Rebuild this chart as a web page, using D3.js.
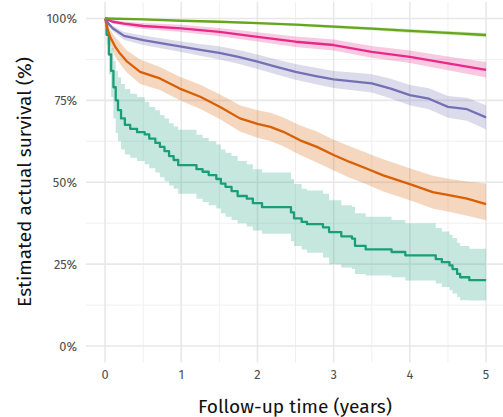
<!DOCTYPE html>
<html><head><meta charset="utf-8">
<script src="https://cdn.jsdelivr.net/npm/d3@7"></script>
<style>body{margin:0;background:#fff}svg{display:block}text{font-family:"Fira Sans","Noto Sans","Open Sans",sans-serif}</style>
</head><body><svg id="c" width="503" height="417"></svg>
<script>
const xTicks = [0,1,2,3,4,5];
const yTicks = [0,25,50,75,100];
const yTickLabels = ["0%","25%","50%","75%","100%"];

// teal (step)
const tealTime  = [0,0.02,0.05,0.08,0.11,0.14,0.17,0.21,0.26,0.33,0.42,0.52,0.58,0.66,0.72,0.78,0.84,0.90,0.96,1.20,1.28,1.36,1.46,1.52,1.58,1.66,1.74,1.86,1.94,2.06,2.44,2.48,2.58,2.65,2.86,2.94,3.10,3.24,3.28,3.42,3.76,3.94,4.34,4.42,4.52,4.56,4.62,4.66,4.78,5.0];
const tealSurv  = [100,95,89,84,79,75,72,69.5,67.5,66.3,65.3,64.6,63.3,62.0,60.8,59.5,58.0,56.8,55.2,54.0,53.2,52.2,51.0,49.6,48.6,47.3,45.8,45.0,43.6,42.4,40.8,39.0,37.9,37.2,36.2,34.8,33.5,32.8,30.6,29.5,28.7,27.7,26.5,25.6,24.6,23.5,22.0,21.0,20.1,20.1];
const tealUpper = [100,98,95,91,87,84,82,80,78.5,77,76,74.5,73,72,70.5,69.5,68,67,66,64.5,63.5,62.5,61.5,60,59,58,56.5,55.5,54,53,51,49.5,48,47.5,46.5,44.5,43,42.5,40.5,39.5,38.5,37.5,36,35,34,33,31.5,30.5,29.7,29.7];
const tealLower = [100,92,83,76,69.5,65,62.5,60,58.5,57.5,56.5,55.5,54.3,53,51.5,50.3,49,48,46.5,45,44,43,42,40.5,39.5,38.5,37.5,36.5,35.3,34.3,32,30.5,29.5,28.5,27,25,24,23.5,22,21.5,21,20,19.1,18,17,16,15,14,13.9,13.9];

// orange
const orangeTime  = [0,0.03,0.066,0.13,0.2,0.29,0.46,0.72,0.98,1.25,1.51,1.77,2.0,2.17,2.34,2.56,2.78,3.0,3.21,3.43,3.65,4.0,4.3,4.53,4.75,5.0];
const orangeSurv  = [100,97,94.4,91.5,89.2,86.8,83.7,81.7,78.6,76.1,73.0,69.5,67.8,66.9,65.4,62.8,60.8,58.3,56.2,54.2,52.1,49.4,47.0,46.0,45.0,43.3];
const orangeUpper = [100,98.5,96.5,94.5,92.5,90.2,87.5,85.2,82.2,79.8,76.8,73.5,72,71.2,69.8,67.3,65.5,63,61,59,57,54.3,52,51,50.2,49.6];
const orangeLower = [100,95.5,92.3,88.5,86,83.4,80,78.2,75,72.4,69.2,65.5,63.6,62.6,61,58.3,56,53.6,51.4,49.4,47.2,44.5,42,40.9,39.8,38.4];

// purple
const purpleTime  = [0,0.05,0.1,0.25,0.5,0.75,1,1.25,1.5,1.75,2,2.25,2.5,2.75,3,3.25,3.5,3.75,4,4.25,4.5,4.75,5];
const purpleSurv  = [100,98.3,97,94.7,93.4,92.4,91.4,90.4,89.5,88.3,86.8,85.2,83.7,82.5,81.4,80.8,80.2,78.6,76.6,75.5,73.0,72.3,69.8];
const purpleUpper = [100,98.8,97.8,95.9,94.8,93.9,93.0,92.2,91.5,90.4,89.0,87.5,86.1,85.0,84.0,83.5,83.0,81.6,79.7,78.7,76.3,75.8,73.5];
const purpleLower = [100,97.8,96.2,93.4,91.9,90.8,89.8,88.6,87.5,86.2,84.6,82.9,81.3,80.0,78.8,78.1,77.4,75.6,73.5,72.3,69.7,68.8,66.1];

// pink
const pinkTime  = [0,0.1,0.25,0.5,1,1.5,2,2.5,3,3.5,4,4.5,5];
const pinkSurv  = [100,99,98.4,97.7,97.0,95.9,94.4,92.9,91.9,89.8,88.3,86.3,84.3];
const pinkUpper = [100,99.5,99.1,98.6,98.1,97.1,95.8,94.5,93.6,91.6,90.2,88.4,86.7];
const pinkLower = [100,98.5,97.7,96.8,95.9,94.6,93.0,91.3,90.2,88.0,86.4,84.2,82.0];

// green
const greenTime  = [0,0.5,1,1.5,2,2.5,3,3.5,4,4.5,5];
const greenSurv  = [100,99.7,99.3,99.0,98.6,98.1,97.5,96.9,96.2,95.6,94.95];
const greenUpper = [100,99.8,99.5,99.3,99.0,98.5,98.0,97.4,96.8,96.2,95.6];
const greenLower = [100,99.5,99.1,98.7,98.2,97.7,97.0,96.4,95.6,95.0,94.3];

const series = [
  {color:"#1b9e77", step:true,  t:tealTime,   s:tealSurv,   u:tealUpper,   l:tealLower},
  {color:"#d95f02", step:false, t:orangeTime, s:orangeSurv, u:orangeUpper, l:orangeLower},
  {color:"#7570b3", step:false, t:purpleTime, s:purpleSurv, u:purpleUpper, l:purpleLower},
  {color:"#e7298a", step:false, t:pinkTime,   s:pinkSurv,   u:pinkUpper,   l:pinkLower},
  {color:"#66a61e", step:false, t:greenTime,  s:greenSurv,  u:greenUpper,  l:greenLower}
];

const svg = d3.select("#c");
const x = d3.scaleLinear().domain([-0.25,5.25]).range([86,505.1]);
const y = d3.scaleLinear().domain([-5,105]).range([362.4,2.1]);

const grid = svg.append("g");
[0.5,1.5,2.5,3.5,4.5].forEach(v=>{
  grid.append("line").attr("x1",x(v)).attr("x2",x(v)).attr("y1",y(-5)).attr("y2",y(105)).attr("stroke","#f0f0f0").attr("stroke-width",1);
});
[12.5,37.5,62.5,87.5].forEach(v=>{
  grid.append("line").attr("y1",y(v)).attr("y2",y(v)).attr("x1",x(-0.25)).attr("x2",x(5.25)).attr("stroke","#f0f0f0").attr("stroke-width",1);
});
xTicks.forEach(v=>{
  grid.append("line").attr("x1",x(v)).attr("x2",x(v)).attr("y1",y(-5)).attr("y2",y(105)).attr("stroke","#e8e8e8").attr("stroke-width",1.6);
});
yTicks.forEach(v=>{
  grid.append("line").attr("y1",y(v)).attr("y2",y(v)).attr("x1",x(-0.25)).attr("x2",x(5.25)).attr("stroke","#e8e8e8").attr("stroke-width",1.6);
});

const ribbons = svg.append("g");
const lines = svg.append("g");
series.forEach(sr=>{
  const pts = sr.t.map((t,i)=>({t, s:sr.s[i], u:sr.u[i], l:sr.l[i]}));
  const curve = sr.step ? d3.curveStepAfter : d3.curveLinear;
  ribbons.append("path").datum(pts)
    .attr("d", d3.area().curve(curve).x(d=>x(d.t)).y0(d=>y(d.l)).y1(d=>y(d.u)))
    .attr("fill", sr.color).attr("fill-opacity",0.25);
  lines.append("path").datum(pts)
    .attr("d", d3.line().curve(curve).x(d=>x(d.t)).y(d=>y(d.s)))
    .attr("fill","none").attr("stroke", sr.color).attr("stroke-width",2.3).attr("stroke-linejoin","round");
});

// fit a text's font size so its width matches a target width
function fit(sel, target){
  const base = parseFloat(sel.attr("font-size"));
  const w = sel.node().getComputedTextLength();
  if (w > 0) sel.attr("font-size", (base*target/w).toFixed(2));
}

const tl = svg.append("g").attr("fill","#4d4d4d");
const probe = tl.append("text").attr("font-size",12).text("100%");
fit(probe, 30.5);
const tickSize = probe.attr("font-size");
probe.remove();
tl.attr("font-size", tickSize);
yTicks.forEach((v,i)=>{
  tl.append("text").attr("x",77).attr("y",y(v)).attr("dy","0.35em").attr("text-anchor","end").text(yTickLabels[i]);
});
xTicks.forEach(v=>{
  tl.append("text").attr("x",x(v)).attr("y",375).attr("dy","0.35em").attr("text-anchor","middle").text(v);
});
const xt = svg.append("text").attr("x",295).attr("y",413).attr("text-anchor","middle").attr("font-size",17).attr("fill","#111").text("Follow-up time (years)");
fit(xt, 194);
const yt = svg.append("text").attr("transform","translate(31,182) rotate(-90)").attr("text-anchor","middle").attr("font-size",17).attr("fill","#111").text("Estimated actual survival (%)");
fit(yt, 250);
</script></body></html>
